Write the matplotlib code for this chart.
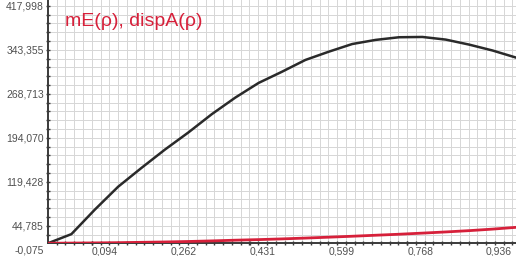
import numpy as np
import matplotlib
matplotlib.use("Agg")
import matplotlib.pyplot as plt
import matplotlib.transforms as mtransforms

plt.rcParams['font.family'] = ['Liberation Sans', 'DejaVu Sans']

# data
rho = [0.0, 0.05, 0.10, 0.15, 0.20, 0.25, 0.30, 0.35, 0.40, 0.45, 0.50,
       0.55, 0.60, 0.65, 0.70, 0.75, 0.80, 0.85, 0.90, 0.95, 1.0]
mE = [0.0, 15.5, 57.0, 96.0, 128.0, 159.0, 188.0, 219.0, 247.0, 272.0, 291.0,
      311.0, 325.0, 338.0, 345.0, 349.5, 350.0, 345.5, 337.0, 327.0, 315.0]
dispA = [0.0, 0.3, 0.6, 1.0, 1.6, 2.2, 3.0, 4.0, 5.2, 6.2, 7.4,
         8.8, 10.3, 11.9, 13.6, 15.3, 17.2, 19.2, 21.4, 24.0, 27.0]

x_ticks = [0.094, 0.262, 0.431, 0.599, 0.768, 0.936]
x_labels = ['0,094', '0,262', '0,431', '0,599', '0,768', '0,936']
y_ticks = [417.998, 343.355, 268.713, 194.070, 119.428, 44.785, -0.075]
y_labels = ['417,998', '343,355', '268,713', '194,070', '119,428', '44,785', '-0,075']

title = 'mE(\u03c1), dispA(\u03c1)'

fig = plt.figure(figsize=(5.16, 2.56), dpi=100)
ax = fig.add_axes([48 / 516, 12.7 / 256, 468 / 516, 243.3 / 256])

x0, x1 = 0.0, 1.0
y0, y1 = -0.075, 412.7
ax.set_xlim(x0, x1)
ax.set_ylim(y0, y1)

# square grid cells
gx = np.arange(-0.075, 1.05, 0.1685 / 9)
gy = np.arange(-0.075, 430, 74.643 / 5)
for g in gx:
    if g > 0.002:
        ax.axvline(g, color='#d6d6d6', lw=0.7, zorder=0)
for g in gy:
    if g > 1:
        ax.axhline(g, color='#d6d6d6', lw=0.7, zorder=0)

ax.plot(rho, mE, color='#2a2a2a', lw=1.8, zorder=3)
ax.plot(rho, dispA, color='#d6203a', lw=2.0, zorder=3)

for s in ['top', 'right']:
    ax.spines[s].set_visible(False)
for s in ['left', 'bottom']:
    ax.spines[s].set_color('#3a3a3a')
    ax.spines[s].set_linewidth(1.4)

ax.set_xticks(gx[(gx > 0) & (gx < 1)], minor=True)
ax.set_yticks(gy[(gy > 1) & (gy < y1)], minor=True)
ax.tick_params(which='minor', direction='inout', length=3, width=1, color='#3a3a3a')
ax.set_xticks(x_ticks)
ax.set_xticklabels(x_labels)
ax.set_yticks([])
ax.tick_params(axis='x', which='major', direction='inout', length=3, width=1,
               color='#3a3a3a', pad=1, labelsize=7.5, labelcolor='#505050')
for lab in ax.get_xticklabels():
    lab.set_horizontalalignment('left')

tr = mtransforms.blended_transform_factory(ax.transAxes, ax.transData)
for v, s in zip(y_ticks, y_labels):
    dy = -3.0 if v > 0 else -1.5
    ax.annotate(s, xy=(0, v), xycoords=tr, xytext=(-3, dy), textcoords='offset points',
                ha='right', va='top', fontsize=7.5, color='#505050', annotation_clip=False)

fig.text(65 / 516, 1 - 21 / 256, title, color='#d6203a', fontsize=14,
         ha='left', va='center')

fig.savefig('out.png', dpi=100)
